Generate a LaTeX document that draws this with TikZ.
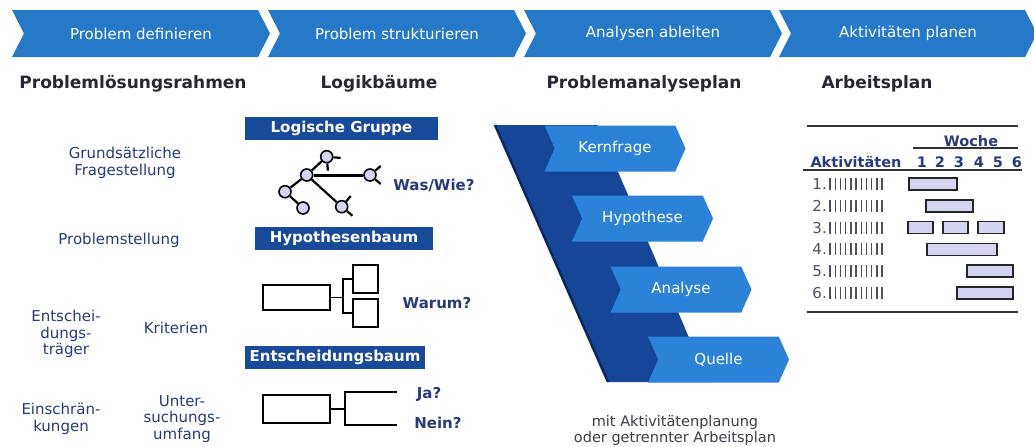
\documentclass[tikz,border=0pt]{standalone}
\usepackage{fontspec}
\setmainfont{DejaVu Sans}
\usepackage{tikz}
\usetikzlibrary{arrows.meta,positioning,shapes.symbols,calc}
\usepackage{xcolor}
\definecolor{headblue}{RGB}{38,120,200}
\definecolor{chevblue}{RGB}{44,130,214}
\definecolor{deepnavy}{RGB}{22,70,152}
\definecolor{darkband}{RGB}{12,38,96}
\definecolor{boxnavy}{RGB}{24,74,154}
\definecolor{textnavy}{RGB}{40,58,125}
\definecolor{titlegray}{RGB}{40,40,48}
\definecolor{softlilac}{RGB}{212,212,240}
\definecolor{tallygray}{RGB}{80,80,90}
\definecolor{notegray}{RGB}{60,60,72}
\tikzset{
  phase/.style={signal, signal to=east, signal from=west, signal pointer angle=126,
                fill=headblue, text=white, minimum width=258pt, minimum height=47pt,
                inner sep=0pt, font=\fontsize{15}{17}\selectfont},
  stage/.style={phase, fill=chevblue, signal pointer angle=132,
                minimum width=141pt, minimum height=46pt},
  heading/.style={anchor=base, text=titlegray, font=\bfseries\fontsize{17}{20}\selectfont},
  frametext/.style={align=center, text=textnavy, inner sep=0pt,
                font=\fontsize{15}{16.5}\selectfont},
  tag/.style={fill=boxnavy, text=white, minimum height=23pt, inner sep=0pt,
                font=\bfseries\fontsize{15}{17}\selectfont},
  ask/.style={text=textnavy, inner sep=0pt, font=\bfseries\fontsize{15}{17}\selectfont},
  knot/.style={circle, draw=black, fill=softlilac, line width=1.6pt,
                minimum size=12pt, inner sep=0pt},
  twig/.style={line width=2.2pt, black},
  leaf/.style={rectangle, draw=black, line width=1.6pt, fill=white, inner sep=0pt},
  branch/.style={line width=1.8pt, black},
  note/.style={align=center, text=notegray, inner sep=0pt,
                font=\fontsize{14.5}{16}\selectfont},
  weekhead/.style={anchor=base, text=textnavy, inner sep=0pt,
                font=\bfseries\fontsize{14.5}{17}\selectfont},
  rowlab/.style={text=tallygray, inner sep=0pt, font=\fontsize{15}{17}\selectfont},
  rule/.style={line width=2pt, black!80},
  tally/.style={line width=1.4pt, tallygray},
  slot/.style={draw=black!85, line width=1.5pt, fill=softlilac},
}

\begin{document}
\begin{tikzpicture}[x=1pt, y=-1pt]
\useasboundingbox (0,0) rectangle (1034,447);

% process phases
\foreach \i/\x/\t in {1/141/Problem definieren, 2/397/Problem strukturieren,
                      3/653/Analysen ableiten, 4/908/Aktivitäten planen}
  \node[phase] (ph\i) at (\x,33.5) {\t};
\foreach \i/\x/\t in {1/133/Problemlösungsrahmen, 2/379/Logikbäume,
                      3/644/Problemanalyseplan, 4/877/Arbeitsplan}
  \node[heading] (ti\i) at (\x,88) {\t};

% problem frame
\node[frametext] (grund) at (125,163) {Grundsätzliche\\Fragestellung};
\node[frametext] (pstell) at (119,240) {Problemstellung};
\node[frametext] (traeger) at (66,334) {Entschei-\\dungs-\\träger};
\node[frametext] (krit) at (176,328) {Kriterien};
\node[frametext] (einschr) at (61,419) {Einschrän-\\kungen};
\node[frametext] (umfang) at (182,419) {Unter-\\suchungs-\\umfang};

% logic group
\node[tag, minimum width=193pt] (lg) at (341.5,128.5) {Logische Gruppe};
\node[knot] (hub) at (306.7,175) {};
\node[knot] (kup) at (326.7,156.7) {};
\node[knot] (kri) at (370,175) {};
\node[knot] (klr) at (341.7,206.7) {};
\node[knot] (kle) at (285,191.7) {};
\node[knot] (kbo) at (303,208) {};
\foreach \a/\b in {hub/kup, hub/klr, hub/kle, kle/kbo}
  \draw[twig] (\a) -- (\b);
\draw[twig, line width=3pt] (hub) -- (kri);
\foreach \n/\a/\k in {kup/85/1, kup/5/2, kri/40/3, kri/-40/4, klr/40/5, klr/-50/6} {
  \path (\n) ++(\a:14) coordinate (fk\k);
  \draw[twig] (\n) -- (fk\k);
}
\node[ask] (waswie) at (434,185) {Was/Wie?};

% hypothesis tree
\node[tag, minimum width=178pt] (hy) at (344,238) {Hypothesenbaum};
\node[leaf, minimum width=67pt, minimum height=25pt] (hmain) at (296.5,297.5) {};
\node[leaf, minimum width=25pt, minimum height=28pt] (ha) at (365.5,279) {};
\node[leaf, minimum width=25pt, minimum height=28pt] (hb) at (365.5,313) {};
\coordinate (hj) at (343,297.5);
\draw[branch] (hmain) -- (hj);
\draw[branch] (ha.west) -| (hj) |- (hb.west);
\node[ask] (warum) at (437,303) {Warum?};

% decision tree
\node[tag, minimum width=180pt] (eb) at (335,357) {Entscheidungsbaum};
\node[leaf, minimum width=67pt, minimum height=28pt] (emain) at (296.5,409) {};
\coordinate (ej) at (345,409);
\coordinate (eja) at (397,392);
\coordinate (enein) at (397,425);
\draw[branch] (emain) -- (ej);
\draw[branch] (eja) -| (ej) |- (enein);
\node[ask] (ja) at (429,394) {Ja?};
\node[ask] (nein) at (438,423) {Nein?};

% analysis plan
\fill[deepnavy] (495,125) -- (598,125) -- (708,382) -- (608,382) -- cycle;
\draw[darkband, line width=2.5pt] (495,125) -- (608,382);
\node[stage] (kf) at (615,148.5) {Kernfrage};
\node[stage] (hp) at (642.5,218.5) {Hypothese};
\node[stage] (an) at (681,289.5) {Analyse};
\node[stage] (qu) at (718.5,359.5) {Quelle};
\node[note] (cap) at (675,430) {mit Aktivitätenplanung\\oder getrennter Arbeitsplan};

% work plan
\draw[rule] (807,126) -- (1018,126);
\node[weekhead] (wo) at (971,146) {Woche};
\draw[rule, line width=1.5pt] (913,148) -- (1018,148);
\node[weekhead] (akt) at (856,167) {Aktivitäten};
\foreach \d/\x in {1/922, 2/940, 3/959, 4/979, 5/998, 6/1017}
  \node[weekhead] (wk\d) at (\x,167) {\d};
\draw[rule] (803,170) -- (1022,170);
\foreach \r in {1,...,6} {
  \pgfmathsetmacro\yy{184+21.8*(\r-1)}
  \node[rowlab, anchor=base east] (row\r) at (827,\yy+5.5) {\r.};
  \foreach \k in {0,...,10}
    \draw[tally] (830+5.2*\k,\yy-6) -- (830+5.2*\k,\yy+6);
}
\foreach \r/\a/\b in {1/909/957, 2/926/973, 3/908/933, 3/943/968, 3/978/1004,
                      4/927/997, 5/967/1013, 6/957/1013}
  \draw[slot] (\a,{184+21.8*(\r-1)-6}) rectangle (\b,{184+21.8*(\r-1)+6});
\draw[rule] (807,312) -- (1018,312);
\end{tikzpicture}
\end{document}
